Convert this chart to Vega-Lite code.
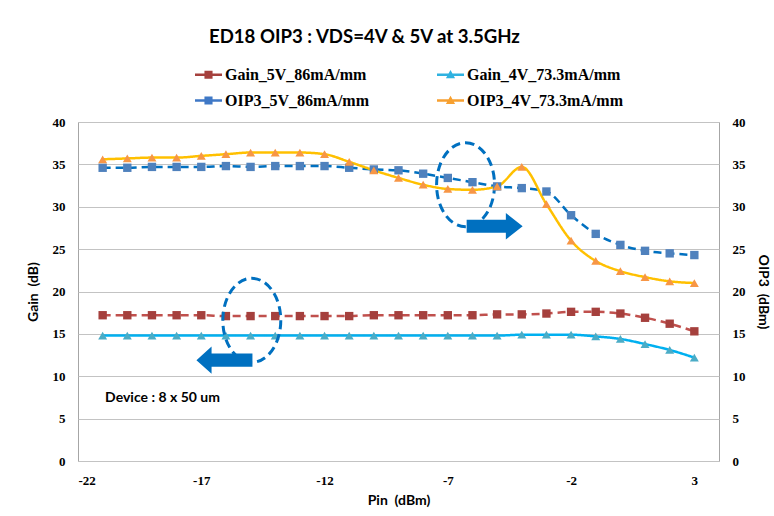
{
  "$schema": "https://vega.github.io/schema/vega-lite/v6.json",
  "width": 641,
  "height": 339,
  "autosize": {"type": "none"},
  "padding": {"left": 78, "top": 122, "right": 55, "bottom": 55},
  "background": "white",
  "title": {
    "text": "ED18 OIP3 : VDS=4V & 5V at 3.5GHz",
    "font": "Lato",
    "fontSize": 18.6,
    "fontWeight": "bold",
    "color": "#000000",
    "anchor": "start",
    "frame": "group",
    "dx": 131,
    "offset": 14
  },
  "config": {
    "view": {"stroke": "#a6a6a6", "strokeWidth": 1},
    "axis": {
      "domain": false,
      "ticks": false,
      "tickSize": 0,
      "labelFont": "Liberation Serif, Times New Roman, serif",
      "labelFontSize": 13,
      "labelFontWeight": "bold",
      "labelColor": "#000000",
      "labelPadding": 13,
      "labelExpr": "datum.value < 0 ? '-' + abs(datum.value) : '' + datum.value",
      "gridColor": "#c3c3c3",
      "gridWidth": 1,
      "titleFont": "Lato",
      "titleFontSize": 14,
      "titleFontWeight": "bold",
      "titleColor": "#000000"
    }
  },
  "datasets": {
    "series": [
      {"pin": -21, "series": "Gain_5V_86mA/mm", "value": 17.2},
      {"pin": -20, "series": "Gain_5V_86mA/mm", "value": 17.2},
      {"pin": -19, "series": "Gain_5V_86mA/mm", "value": 17.2},
      {"pin": -18, "series": "Gain_5V_86mA/mm", "value": 17.2},
      {"pin": -17, "series": "Gain_5V_86mA/mm", "value": 17.2},
      {"pin": -16, "series": "Gain_5V_86mA/mm", "value": 17.1},
      {"pin": -15, "series": "Gain_5V_86mA/mm", "value": 17.1},
      {"pin": -14, "series": "Gain_5V_86mA/mm", "value": 17.1},
      {"pin": -13, "series": "Gain_5V_86mA/mm", "value": 17.1},
      {"pin": -12, "series": "Gain_5V_86mA/mm", "value": 17.1},
      {"pin": -11, "series": "Gain_5V_86mA/mm", "value": 17.1},
      {"pin": -10, "series": "Gain_5V_86mA/mm", "value": 17.2},
      {"pin": -9, "series": "Gain_5V_86mA/mm", "value": 17.2},
      {"pin": -8, "series": "Gain_5V_86mA/mm", "value": 17.2},
      {"pin": -7, "series": "Gain_5V_86mA/mm", "value": 17.2},
      {"pin": -6, "series": "Gain_5V_86mA/mm", "value": 17.2},
      {"pin": -5, "series": "Gain_5V_86mA/mm", "value": 17.3},
      {"pin": -4, "series": "Gain_5V_86mA/mm", "value": 17.3},
      {"pin": -3, "series": "Gain_5V_86mA/mm", "value": 17.4},
      {"pin": -2, "series": "Gain_5V_86mA/mm", "value": 17.6},
      {"pin": -1, "series": "Gain_5V_86mA/mm", "value": 17.6},
      {"pin": 0, "series": "Gain_5V_86mA/mm", "value": 17.4},
      {"pin": 1, "series": "Gain_5V_86mA/mm", "value": 16.9},
      {"pin": 2, "series": "Gain_5V_86mA/mm", "value": 16.2},
      {"pin": 3, "series": "Gain_5V_86mA/mm", "value": 15.3},
      {"pin": -21, "series": "Gain_4V_73.3mA/mm", "value": 14.8},
      {"pin": -20, "series": "Gain_4V_73.3mA/mm", "value": 14.8},
      {"pin": -19, "series": "Gain_4V_73.3mA/mm", "value": 14.8},
      {"pin": -18, "series": "Gain_4V_73.3mA/mm", "value": 14.8},
      {"pin": -17, "series": "Gain_4V_73.3mA/mm", "value": 14.8},
      {"pin": -16, "series": "Gain_4V_73.3mA/mm", "value": 14.8},
      {"pin": -15, "series": "Gain_4V_73.3mA/mm", "value": 14.8},
      {"pin": -14, "series": "Gain_4V_73.3mA/mm", "value": 14.8},
      {"pin": -13, "series": "Gain_4V_73.3mA/mm", "value": 14.8},
      {"pin": -12, "series": "Gain_4V_73.3mA/mm", "value": 14.8},
      {"pin": -11, "series": "Gain_4V_73.3mA/mm", "value": 14.8},
      {"pin": -10, "series": "Gain_4V_73.3mA/mm", "value": 14.8},
      {"pin": -9, "series": "Gain_4V_73.3mA/mm", "value": 14.8},
      {"pin": -8, "series": "Gain_4V_73.3mA/mm", "value": 14.8},
      {"pin": -7, "series": "Gain_4V_73.3mA/mm", "value": 14.8},
      {"pin": -6, "series": "Gain_4V_73.3mA/mm", "value": 14.8},
      {"pin": -5, "series": "Gain_4V_73.3mA/mm", "value": 14.8},
      {"pin": -4, "series": "Gain_4V_73.3mA/mm", "value": 14.9},
      {"pin": -3, "series": "Gain_4V_73.3mA/mm", "value": 14.9},
      {"pin": -2, "series": "Gain_4V_73.3mA/mm", "value": 14.9},
      {"pin": -1, "series": "Gain_4V_73.3mA/mm", "value": 14.7},
      {"pin": 0, "series": "Gain_4V_73.3mA/mm", "value": 14.4},
      {"pin": 1, "series": "Gain_4V_73.3mA/mm", "value": 13.8},
      {"pin": 2, "series": "Gain_4V_73.3mA/mm", "value": 13.1},
      {"pin": 3, "series": "Gain_4V_73.3mA/mm", "value": 12.2},
      {"pin": -21, "series": "OIP3_5V_86mA/mm", "value": 34.6},
      {"pin": -20, "series": "OIP3_5V_86mA/mm", "value": 34.6},
      {"pin": -19, "series": "OIP3_5V_86mA/mm", "value": 34.7},
      {"pin": -18, "series": "OIP3_5V_86mA/mm", "value": 34.7},
      {"pin": -17, "series": "OIP3_5V_86mA/mm", "value": 34.7},
      {"pin": -16, "series": "OIP3_5V_86mA/mm", "value": 34.8},
      {"pin": -15, "series": "OIP3_5V_86mA/mm", "value": 34.7},
      {"pin": -14, "series": "OIP3_5V_86mA/mm", "value": 34.8},
      {"pin": -13, "series": "OIP3_5V_86mA/mm", "value": 34.8},
      {"pin": -12, "series": "OIP3_5V_86mA/mm", "value": 34.8},
      {"pin": -11, "series": "OIP3_5V_86mA/mm", "value": 34.6},
      {"pin": -10, "series": "OIP3_5V_86mA/mm", "value": 34.4},
      {"pin": -9, "series": "OIP3_5V_86mA/mm", "value": 34.3},
      {"pin": -8, "series": "OIP3_5V_86mA/mm", "value": 33.9},
      {"pin": -7, "series": "OIP3_5V_86mA/mm", "value": 33.4},
      {"pin": -6, "series": "OIP3_5V_86mA/mm", "value": 32.9},
      {"pin": -5, "series": "OIP3_5V_86mA/mm", "value": 32.4},
      {"pin": -4, "series": "OIP3_5V_86mA/mm", "value": 32.2},
      {"pin": -3, "series": "OIP3_5V_86mA/mm", "value": 31.8},
      {"pin": -2, "series": "OIP3_5V_86mA/mm", "value": 29.0},
      {"pin": -1, "series": "OIP3_5V_86mA/mm", "value": 26.8},
      {"pin": 0, "series": "OIP3_5V_86mA/mm", "value": 25.5},
      {"pin": 1, "series": "OIP3_5V_86mA/mm", "value": 24.8},
      {"pin": 2, "series": "OIP3_5V_86mA/mm", "value": 24.5},
      {"pin": 3, "series": "OIP3_5V_86mA/mm", "value": 24.3},
      {"pin": -21, "series": "OIP3_4V_73.3mA/mm", "value": 35.6},
      {"pin": -20, "series": "OIP3_4V_73.3mA/mm", "value": 35.7},
      {"pin": -19, "series": "OIP3_4V_73.3mA/mm", "value": 35.8},
      {"pin": -18, "series": "OIP3_4V_73.3mA/mm", "value": 35.8},
      {"pin": -17, "series": "OIP3_4V_73.3mA/mm", "value": 36.0},
      {"pin": -16, "series": "OIP3_4V_73.3mA/mm", "value": 36.2},
      {"pin": -15, "series": "OIP3_4V_73.3mA/mm", "value": 36.4},
      {"pin": -14, "series": "OIP3_4V_73.3mA/mm", "value": 36.4},
      {"pin": -13, "series": "OIP3_4V_73.3mA/mm", "value": 36.4},
      {"pin": -12, "series": "OIP3_4V_73.3mA/mm", "value": 36.2},
      {"pin": -11, "series": "OIP3_4V_73.3mA/mm", "value": 35.3},
      {"pin": -10, "series": "OIP3_4V_73.3mA/mm", "value": 34.3},
      {"pin": -9, "series": "OIP3_4V_73.3mA/mm", "value": 33.4},
      {"pin": -8, "series": "OIP3_4V_73.3mA/mm", "value": 32.6},
      {"pin": -7, "series": "OIP3_4V_73.3mA/mm", "value": 32.1},
      {"pin": -6, "series": "OIP3_4V_73.3mA/mm", "value": 32.0},
      {"pin": -5, "series": "OIP3_4V_73.3mA/mm", "value": 32.4},
      {"pin": -4, "series": "OIP3_4V_73.3mA/mm", "value": 34.7},
      {"pin": -3, "series": "OIP3_4V_73.3mA/mm", "value": 30.3},
      {"pin": -2, "series": "OIP3_4V_73.3mA/mm", "value": 26.0},
      {"pin": -1, "series": "OIP3_4V_73.3mA/mm", "value": 23.6},
      {"pin": 0, "series": "OIP3_4V_73.3mA/mm", "value": 22.4},
      {"pin": 1, "series": "OIP3_4V_73.3mA/mm", "value": 21.7},
      {"pin": 2, "series": "OIP3_4V_73.3mA/mm", "value": 21.2},
      {"pin": 3, "series": "OIP3_4V_73.3mA/mm", "value": 21.0}
    ],
    "notes": [
      {"kind": "ellipse", "pin": -6.28, "value": 32.6, "label": ""},
      {"kind": "ellipse", "pin": -14.95, "value": 16.6, "label": ""},
      {"kind": "arrowRight", "pin": -5.1, "value": 27.7, "label": ""},
      {"kind": "arrowLeft", "pin": -16.06, "value": 11.9, "label": ""},
      {"kind": "text", "pin": -20.9, "value": 7.4, "label": "Device : 8 x 50 um"}
    ]
  },
  "layer": [
    {
      "data": {"name": "series"},
      "encoding": {
        "x": {
          "field": "pin",
          "type": "quantitative",
          "scale": {"domain": [-22, 4], "nice": false, "zero": false},
          "axis": {"values": [-22, -17, -12, -7, -2, 3], "title": "Pin \u00a0(dBm)", "grid": false, "titlePadding": 6}
        },
        "y": {
          "field": "value",
          "type": "quantitative",
          "scale": {"domain": [0, 40], "nice": false, "zero": false},
          "axis": {"orient": "left", "values": [0, 5, 10, 15, 20, 25, 30, 35, 40], "title": "Gain \u00a0(dB)", "grid": true, "titlePadding": 12}
        }
      },
      "layer": [
        {
          "transform": [{"filter": {"field": "series", "oneOf": ["Gain_5V_86mA/mm", "Gain_4V_73.3mA/mm"]}}],
          "mark": {"type": "line", "strokeWidth": 2.5, "interpolate": "monotone"},
          "encoding": {
            "stroke": {
              "field": "series", "type": "nominal",
              "scale": {"domain": ["OIP3_4V_73.3mA/mm", "OIP3_5V_86mA/mm", "Gain_4V_73.3mA/mm", "Gain_5V_86mA/mm"], "range": ["#FFC000", "#0070C0", "#00B0F0", "#C0504D"]},
              "legend": null
            },
            "strokeDash": {
              "field": "series", "type": "nominal",
              "scale": {"domain": ["OIP3_5V_86mA/mm", "OIP3_4V_73.3mA/mm", "Gain_5V_86mA/mm", "Gain_4V_73.3mA/mm"], "range": [[8, 5], [1, 0], [8, 5], [1, 0]]},
              "legend": null
            }
          }
        },
        {
          "transform": [{"filter": {"field": "series", "equal": "Gain_5V_86mA/mm"}}],
          "mark": {"type": "point", "shape": "square", "filled": true, "opacity": 1, "size": 70, "strokeWidth": 0},
          "encoding": {
            "color": {
              "field": "series", "type": "nominal",
              "scale": {"domain": ["Gain_4V_73.3mA/mm", "Gain_5V_86mA/mm", "OIP3_4V_73.3mA/mm", "OIP3_5V_86mA/mm"], "range": ["#4BACC6", "#A5403D", "#F79646", "#4F81BD"]},
              "legend": null
            }
          }
        },
        {
          "transform": [{"filter": {"field": "series", "equal": "Gain_4V_73.3mA/mm"}}],
          "mark": {"type": "point", "shape": "triangle-up", "filled": true, "opacity": 1, "size": 80, "strokeWidth": 0},
          "encoding": {"color": {"field": "series", "type": "nominal", "legend": null}}
        },
        {
          "transform": [{"filter": "datum.pin > 100"}],
          "mark": {"type": "point", "filled": true, "opacity": 1, "size": 10, "strokeWidth": 0},
          "encoding": {
            "fill": {
              "field": "series", "type": "nominal",
              "scale": {"domain": ["Gain_5V_86mA/mm", "OIP3_5V_86mA/mm", "Gain_4V_73.3mA/mm", "OIP3_4V_73.3mA/mm"], "range": ["#A5403D", "#3F78C6", "#2FB2E0", "#F7A030"]},
              "legend": {
                "orient": "none",
                "legendX": 117,
                "legendY": -61,
                "columns": 2,
                "columnPadding": 68,
                "rowPadding": 4,
                "title": null,
                "symbolSize": 729,
                "labelFont": "Liberation Serif, Times New Roman, serif",
                "labelFontSize": 16,
                "labelFontWeight": "bold",
                "labelColor": "#000000",
                "labelOffset": 3,
                "labelLimit": 400,
                "symbolStrokeWidth": 0,
                "symbolOpacity": 1
              }
            },
            "shape": {
              "field": "series", "type": "nominal",
              "scale": {"domain": ["Gain_5V_86mA/mm", "OIP3_5V_86mA/mm", "Gain_4V_73.3mA/mm", "OIP3_4V_73.3mA/mm"], "range": [
                "M-1,-0.09 L1,-0.09 L1,0.09 L-1,0.09 Z M-0.3,-0.3 L0.3,-0.3 L0.3,0.3 L-0.3,0.3 Z",
                "M-1,-0.09 L1,-0.09 L1,0.09 L-1,0.09 Z M-0.3,-0.3 L0.3,-0.3 L0.3,0.3 L-0.3,0.3 Z",
                "M-1,-0.09 L1,-0.09 L1,0.09 L-1,0.09 Z M0,-0.36 L0.34,0.26 L-0.34,0.26 Z",
                "M-1,-0.09 L1,-0.09 L1,0.09 L-1,0.09 Z M0,-0.36 L0.34,0.26 L-0.34,0.26 Z"
              ]}
            }
          }
        },
        {
          "data": {"name": "notes"},
          "transform": [{"filter": "datum.kind == 'ellipse'"}],
          "mark": {"type": "point", "shape": "M0,-1 A0.69,1 0 1,1 0,1 A0.69,1 0 1,1 0,-1 Z", "size": 7056, "filled": false, "stroke": "#0070C0", "strokeWidth": 3, "strokeDash": [9, 5], "opacity": 1},
          "encoding": {"x": {"field": "pin", "type": "quantitative"}, "y": {"field": "value", "type": "quantitative"}}
        },
        {
          "data": {"name": "notes"},
          "transform": [{"filter": "datum.kind == 'arrowRight'"}],
          "mark": {"type": "point", "shape": "M-1,-0.23 L0.4,-0.23 L0.4,-0.47 L1,0 L0.4,0.47 L0.4,0.23 L-1,0.23 Z", "size": 3136, "filled": true, "fill": "#0070C0", "strokeWidth": 0, "opacity": 1},
          "encoding": {"x": {"field": "pin", "type": "quantitative"}, "y": {"field": "value", "type": "quantitative"}}
        },
        {
          "data": {"name": "notes"},
          "transform": [{"filter": "datum.kind == 'arrowLeft'"}],
          "mark": {"type": "point", "shape": "M1,-0.24 L-0.46,-0.24 L-0.46,-0.49 L-1,0 L-0.46,0.49 L-0.46,0.24 L1,0.24 Z", "size": 3136, "filled": true, "fill": "#0070C0", "strokeWidth": 0, "opacity": 1},
          "encoding": {"x": {"field": "pin", "type": "quantitative"}, "y": {"field": "value", "type": "quantitative"}}
        },
        {
          "data": {"name": "notes"},
          "transform": [{"filter": "datum.kind == 'text'"}],
          "mark": {"type": "text", "align": "left", "baseline": "middle", "font": "Lato", "fontSize": 14, "fontWeight": "bold", "color": "#000000"},
          "encoding": {"x": {"field": "pin", "type": "quantitative"}, "y": {"field": "value", "type": "quantitative"}, "text": {"field": "label"}}
        }
      ]
    },
    {
      "data": {"name": "series"},
      "encoding": {
        "x": {"field": "pin", "type": "quantitative"},
        "y": {
          "field": "value",
          "type": "quantitative",
          "scale": {"domain": [0, 40], "nice": false, "zero": false},
          "axis": {"orient": "right", "values": [0, 5, 10, 15, 20, 25, 30, 35, 40], "title": "OIP3 \u00a0(dBm)", "grid": false, "titlePadding": 10}
        }
      },
      "layer": [
        {
          "transform": [{"filter": {"field": "series", "oneOf": ["OIP3_5V_86mA/mm", "OIP3_4V_73.3mA/mm"]}}],
          "mark": {"type": "line", "strokeWidth": 2.5, "interpolate": "monotone"},
          "encoding": {
            "stroke": {"field": "series", "type": "nominal", "legend": null},
            "strokeDash": {"field": "series", "type": "nominal", "legend": null}
          }
        },
        {
          "transform": [{"filter": {"field": "series", "equal": "OIP3_5V_86mA/mm"}}],
          "mark": {"type": "point", "shape": "square", "filled": true, "opacity": 1, "size": 70, "strokeWidth": 0},
          "encoding": {"color": {"field": "series", "type": "nominal", "legend": null}}
        },
        {
          "transform": [{"filter": {"field": "series", "equal": "OIP3_4V_73.3mA/mm"}}],
          "mark": {"type": "point", "shape": "triangle-up", "filled": true, "opacity": 1, "size": 80, "strokeWidth": 0},
          "encoding": {"color": {"field": "series", "type": "nominal", "legend": null}}
        }
      ]
    }
  ],
  "resolve": {"scale": {"y": "independent"}}
}
